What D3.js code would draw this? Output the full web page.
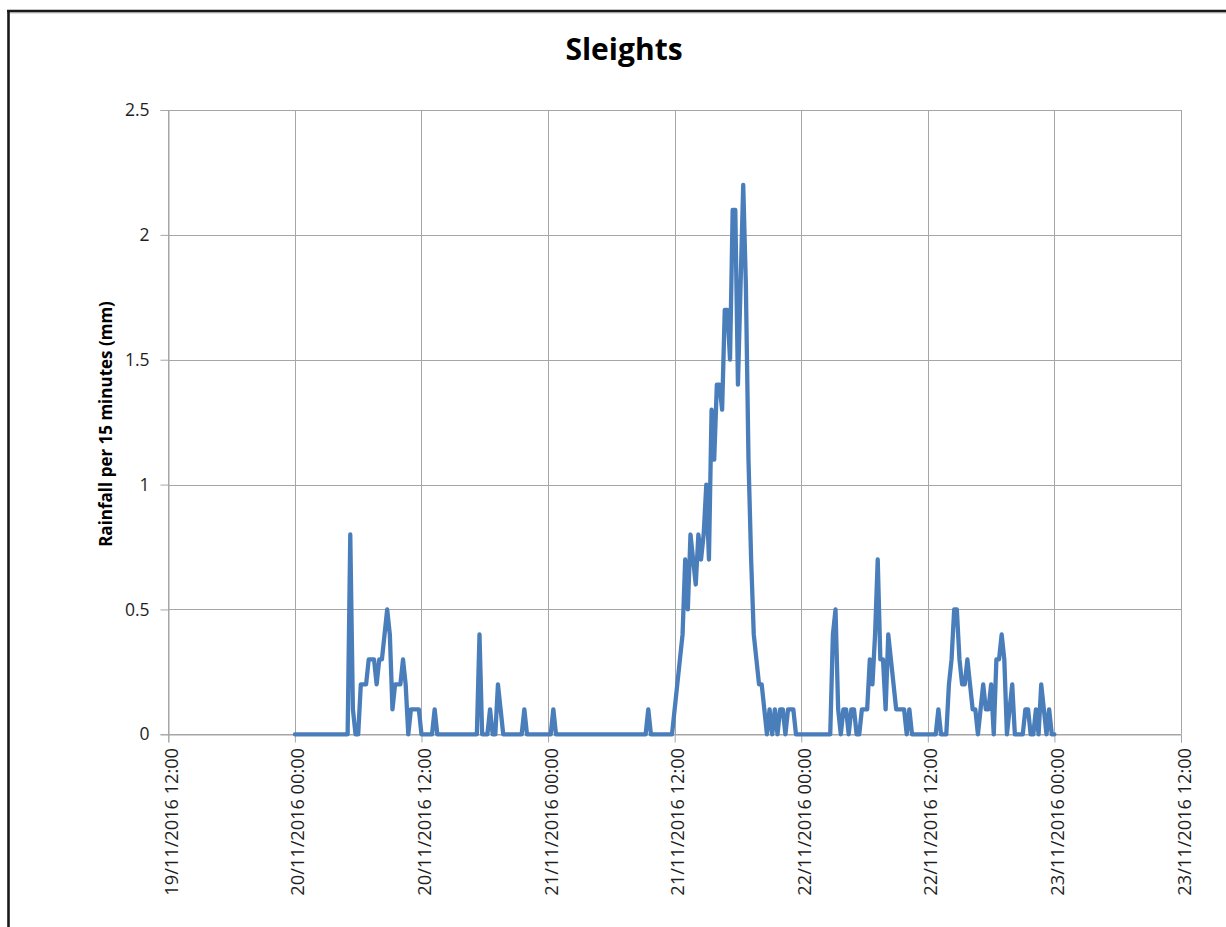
<!DOCTYPE html>
<html>
<head>
<meta charset="utf-8">
<script src="https://cdn.jsdelivr.net/npm/d3@7"></script>
<style>
  html, body { margin: 0; padding: 0; background: #ffffff; }
  svg { display: block; }
</style>
</head>
<body>
<script>
// ---------------- DATA ----------------
const chartTitle = "Sleights";
const yAxisTitle = "Rainfall per 15 minutes (mm)";
const seriesStart = "20/11/2016 00:00";   // first reading
const stepMinutes = 15;                   // reading interval
// rainfall per 15 minutes (mm), 20/11/2016 00:00 -> 23/11/2016 00:00
const rainfall = [
  0,0,0,0,0,0,0,0,0,0, 0,0,0,0,0,0,0,0,0,0,              // 0-19
  0,0.8,0.1,0,0,0.2,0.2,0.2,0.3,0.3,                     // 20-29
  0.3,0.2,0.3,0.3,0.4,0.5,0.4,0.1,0.2,0.2,               // 30-39
  0.2,0.3,0.2,0,0.1,0.1,0.1,0.1,0,0,                     // 40-49
  0,0,0,0.1,0,0,0,0,0,0,                                 // 50-59
  0,0,0,0,0,0,0,0,0,0,                                   // 60-69
  0.4,0,0,0,0.1,0,0,0.2,0.1,0,                           // 70-79
  0,0,0,0,0,0,0,0.1,0,0,                                 // 80-89
  0,0,0,0,0,0,0,0,0.1,0,                                 // 90-99
  0,0,0,0,0,0,0,0,0,0,                                   // 100-109
  0,0,0,0,0,0,0,0,0,0,                                   // 110-119
  0,0,0,0,0,0,0,0,0,0,                                   // 120-129
  0,0,0,0,0.1,0,0,0,0,0,                                 // 130-139
  0,0,0,0,0.1,0.2,0.3,0.4,0.7,0.5,                       // 140-149
  0.8,0.7,0.6,0.8,0.7,0.8,1.0,0.7,1.3,1.1,               // 150-159
  1.4,1.4,1.3,1.7,1.7,1.5,2.1,2.1,1.4,1.8,               // 160-169
  2.2,1.8,1.1,0.7,0.4,0.3,0.2,0.2,0.1,0,                 // 170-179
  0.1,0,0.1,0,0.1,0.1,0,0.1,0.1,0.1,                     // 180-189
  0,0,0,0,0,0,0,0,0,0,                                   // 190-199
  0,0,0,0,0.4,0.5,0.1,0,0.1,0.1,                         // 200-209
  0,0.1,0.1,0,0,0.1,0.1,0.1,0.3,0.2,                     // 210-219
  0.4,0.7,0.3,0.3,0.1,0.4,0.3,0.2,0.1,0.1,               // 220-229
  0.1,0.1,0,0.1,0,0,0,0,0,0,                             // 230-239
  0,0,0,0,0.1,0,0,0,0.2,0.3,                             // 240-249
  0.5,0.5,0.3,0.2,0.2,0.3,0.2,0.1,0.1,0,                 // 250-259
  0.1,0.2,0.1,0.1,0.2,0,0.3,0.3,0.4,0.3,                 // 260-269
  0,0.1,0.2,0,0,0,0,0.1,0.1,0,                           // 270-279
  0,0.1,0,0.2,0.1,0,0.1,0,0                              // 280-288
];
const xTickLabels = [
  "19/11/2016 12:00","20/11/2016 00:00","20/11/2016 12:00","21/11/2016 00:00",
  "21/11/2016 12:00","22/11/2016 00:00","22/11/2016 12:00","23/11/2016 00:00",
  "23/11/2016 12:00"
];
const yTickValues = [0, 0.5, 1, 1.5, 2, 2.5];

// ---------------- SETUP ----------------
const W = 1226, H = 927;
const plot = { left: 168.3, right: 1181, top: 110, bottom: 734.3 };
const parseT = d3.utcParse("%d/%m/%Y %H:%M");
const fmtT = d3.utcFormat("%d/%m/%Y %H:%M");

const t0 = parseT(seriesStart);
const points = rainfall.map((v, i) => ({ t: new Date(+t0 + i * stepMinutes * 60000), v }));
const xTicks = xTickLabels.map(parseT);

const x = d3.scaleUtc()
  .domain([xTicks[0], xTicks[xTicks.length - 1]])
  .range([plot.left, plot.right]);
const y = d3.scaleLinear()
  .domain([yTickValues[0], yTickValues[yTickValues.length - 1]])
  .range([plot.bottom, plot.top]);

const svg = d3.select("body").append("svg")
  .attr("width", W).attr("height", H);

svg.append("rect").attr("width", W).attr("height", H).attr("fill", "#ffffff");

// outer frame (only left and top visible in the crop)
svg.append("line").attr("x1", 8.5).attr("x2", 8.5).attr("y1", 10).attr("y2", H)
  .attr("stroke", "#1a1a1a").attr("stroke-width", 2.6);
svg.append("line").attr("x1", 7).attr("x2", W).attr("y1", 11).attr("y2", 11)
  .attr("stroke", "#1a1a1a").attr("stroke-width", 2.6);
svg.append("line").attr("x1", 10).attr("x2", W).attr("y1", 12.8).attr("y2", 12.8)
  .attr("stroke", "#9a9a9a").attr("stroke-width", 1);

const gridColor = "#a6a6a6";

// horizontal gridlines
svg.append("g").selectAll("line").data(yTickValues).join("line")
  .attr("x1", plot.left).attr("x2", plot.right)
  .attr("y1", d => Math.round(y(d)) + 0.5).attr("y2", d => Math.round(y(d)) + 0.5)
  .attr("stroke", gridColor).attr("stroke-width", 1);

// vertical gridlines
svg.append("g").selectAll("line").data(xTicks).join("line")
  .attr("x1", d => Math.round(x(d)) + 0.5).attr("x2", d => Math.round(x(d)) + 0.5)
  .attr("y1", plot.top).attr("y2", plot.bottom)
  .attr("stroke", gridColor).attr("stroke-width", 1);

// Y axis
const yAxis = d3.axisLeft(y)
  .tickValues(yTickValues)
  .tickSize(8)
  .tickPadding(11)
  .tickFormat(d3.format("~g"));
const gy = svg.append("g")
  .attr("transform", `translate(${Math.round(plot.left) + 0.5},0)`)
  .call(yAxis);
gy.select(".domain").attr("stroke", gridColor);
gy.selectAll(".tick line").attr("stroke", gridColor);
gy.selectAll(".tick text")
  .attr("font-family", "'Open Sans', sans-serif")
  .attr("font-size", 17.5).attr("fill", "#1e1e1e");

// X axis
const xAxis = d3.axisBottom(x)
  .tickValues(xTicks)
  .tickSize(8)
  .tickFormat(fmtT);
const gx = svg.append("g")
  .attr("transform", `translate(0,${Math.round(plot.bottom) + 0.5})`)
  .call(xAxis);
gx.select(".domain").attr("stroke", gridColor);
gx.selectAll(".tick line").attr("stroke", gridColor);
gx.selectAll(".tick text")
  .attr("font-family", "'Open Sans', sans-serif")
  .attr("font-size", 18.2).attr("fill", "#1e1e1e")
  .attr("text-anchor", "end")
  .attr("dy", null)
  .attr("y", null)
  .attr("transform", "translate(2,13.5) rotate(-90)")
  .attr("dominant-baseline", "central");

// Line series
const line = d3.line().x(d => x(d.t)).y(d => y(d.v));
svg.append("path").datum(points)
  .attr("d", line)
  .attr("fill", "none")
  .attr("stroke", "#4a7ebb")
  .attr("stroke-width", 4.3)
  .attr("stroke-linejoin", "round")
  .attr("stroke-linecap", "round");

// Title
svg.append("text")
  .attr("x", 624).attr("y", 60)
  .attr("text-anchor", "middle")
  .attr("font-family", "'Open Sans', sans-serif")
  .attr("font-weight", "bold")
  .attr("font-size", 30)
  .attr("fill", "#000")
  .text(chartTitle);

// Y axis title
svg.append("text")
  .attr("transform", `translate(105,${(300 + 548) / 2}) rotate(-90)`)
  .attr("text-anchor", "middle")
  .attr("dominant-baseline", "central")
  .attr("font-family", "'Open Sans', sans-serif")
  .attr("font-weight", "bold")
  .attr("font-size", 17)
  .attr("fill", "#000")
  .text(yAxisTitle);
</script>
</body>
</html>
